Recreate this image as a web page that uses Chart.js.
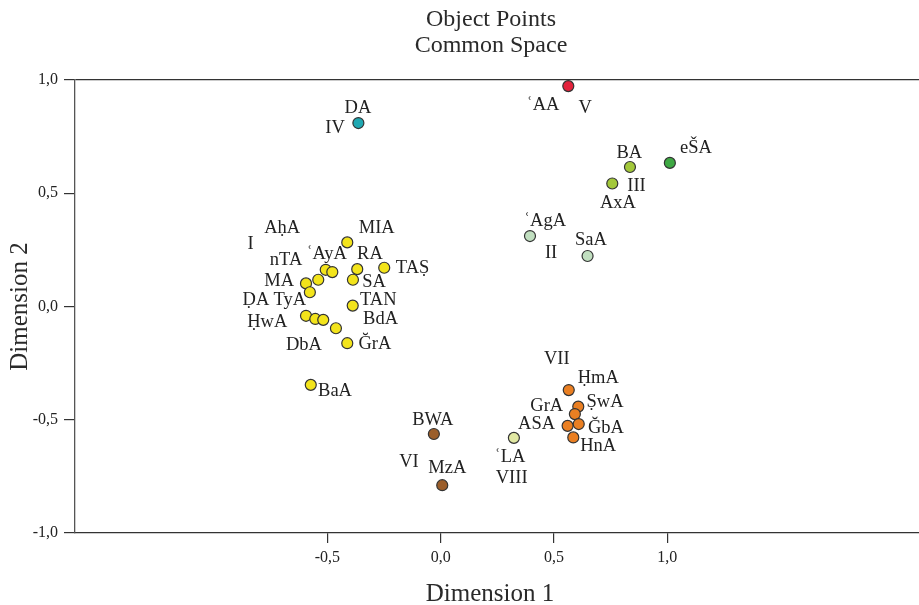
<!DOCTYPE html>
<html>
<head>
<meta charset="utf-8">
<title>Object Points</title>
<script src="https://cdn.jsdelivr.net/npm/chart.js@4/dist/chart.umd.min.js"></script>
<style>
  body { margin: 0; background: #fff; }
</style>
</head>
<body>
<canvas id="plot" width="919" height="605"></canvas>
<script>
//point groups (dimension 1 / dimension 2)
const groupI_x = [-0.412, -0.368, -0.249, -0.387, -0.388, -0.412, -0.462, -0.594, -0.553, -0.518, -0.507, -0.478, -0.540, -0.594, -0.577, -0.573]
const groupI_y = [0.283, 0.165, 0.171, 0.118, 0.004, -0.162, -0.096, -0.041, -0.055, -0.059, 0.162, 0.152, 0.118, 0.102, 0.063, -0.346]
const groupII_x = [0.394, 0.648]
const groupII_y = [0.311, 0.223]
const groupIII_x = [0.835, 0.757]
const groupIII_y = [0.616, 0.543]
const eSA_x = [1.011]
const eSA_y = [0.634]
const groupIV_x = [-0.363]
const groupIV_y = [0.810]
const groupV_x = [0.563]
const groupV_y = [0.973]
const groupVI_x = [-0.030, 0.007]
const groupVI_y = [-0.563, -0.789]
const groupVII_x = [0.565, 0.607, 0.592, 0.560, 0.609, 0.585]
const groupVII_y = [-0.369, -0.442, -0.475, -0.527, -0.519, -0.578]
const groupVIII_x = [0.323]
const groupVIII_y = [-0.580]

//text labels, placed in data units
const labelText = ['ʿAA', 'V', 'DA', 'IV', 'BA', 'III', 'AxA', 'eŠA', 'ʿAgA', 'II', 'SaA',
  'AḥA', 'I', 'MIA', 'nTA', 'ʿAyA', 'RA', 'TAṢ', 'MA', 'SA', 'ḌA', 'TyA', 'TAN', 'ḤwA', 'BdA', 'DbA', 'ĞrA', 'BaA',
  'BWA', 'VI', 'MzA', 'VII', 'ḤmA', 'ṢwA', 'GrA', 'ASA', 'ĞbA', 'HnA', 'ʿLA', 'VIII']
const labelX = [0.451, 0.637, -0.365, -0.466, 0.832, 0.864, 0.782, 1.126, 0.460, 0.487, 0.663,
  -0.699, -0.838, -0.282, -0.682, -0.503, -0.312, -0.124, -0.712, -0.294, -0.815, -0.665, -0.275, -0.765, -0.265, -0.603, -0.290, -0.466,
  -0.035, -0.140, 0.029, 0.512, 0.695, 0.725, 0.468, 0.423, 0.729, 0.695, 0.306, 0.313]
const labelY = [0.894, 0.882, 0.881, 0.792, 0.681, 0.535, 0.460, 0.705, 0.381, 0.240, 0.300,
  0.350, 0.279, 0.350, 0.208, 0.235, 0.235, 0.173, 0.119, 0.111, 0.031, 0.031, 0.035, -0.066, -0.049, -0.164, -0.159, -0.367,
  -0.495, -0.684, -0.708, -0.226, -0.310, -0.416, -0.434, -0.513, -0.531, -0.611, -0.659, -0.752]

//axis ticks
const xTicks = [-0.5, 0, 0.5, 1.0]
const yTicks = [-1.0, -0.5, 0, 0.5, 1.0]

function pts(xs, ys) {
  return xs.map((x, i) => ({ x: x, y: ys[i] }))
}

function group(xs, ys, color) {
  return {
    data: pts(xs, ys),
    backgroundColor: color,
    borderColor: '#333',
    borderWidth: 1.2,
    pointRadius: 5.5
  }
}

function comma(v) {
  return v.toFixed(1).replace('.', ',')
}

const serif = '"Liberation Serif", serif'

//labels and titles drawn on top
const textPlugin = {
  id: 'texts',
  afterDatasetsDraw(chart) {
    const ctx = chart.ctx
    const sx = chart.scales.x
    const sy = chart.scales.y
    ctx.save()
    ctx.fillStyle = '#222'
    ctx.font = '18.5px ' + serif
    ctx.textAlign = 'center'
    ctx.textBaseline = 'alphabetic'
    labelText.forEach((t, i) => {
      ctx.fillText(t, sx.getPixelForValue(labelX[i]), sy.getPixelForValue(labelY[i]) + 6)
    })

    ctx.fillStyle = '#2a2a2a'
    ctx.font = '24px ' + serif
    ctx.fillText('Object Points', 491, 26)
    ctx.fillText('Common Space', 491, 52)
    ctx.font = '25px ' + serif
    ctx.fillText('Dimension 1', 490, 601)

    ctx.translate(27, (chart.chartArea.top + chart.chartArea.bottom) / 2)
    ctx.rotate(-Math.PI / 2)
    ctx.fillText('Dimension 2', 0, 0)
    ctx.restore()
  }
}

new Chart(document.getElementById('plot'), {
  type: 'scatter',
  data: {
    datasets: [
      group(groupI_x, groupI_y, '#f3e41b'),
      group(groupII_x, groupII_y, '#c1dfc0'),
      group(groupIII_x, groupIII_y, '#a3c83a'),
      group(eSA_x, eSA_y, '#3ea843'),
      group(groupIV_x, groupIV_y, '#1fa8b2'),
      group(groupV_x, groupV_y, '#e4223c'),
      group(groupVI_x, groupVI_y, '#9b5e2b'),
      group(groupVII_x, groupVII_y, '#ea7f22'),
      group(groupVIII_x, groupVIII_y, '#e1e8a3')
    ]
  },
  options: {
    responsive: false,
    animation: false,
    layout: { autoPadding: false, padding: { top: 80, left: 0, right: 0, bottom: 0 } },
    plugins: {
      legend: { display: false },
      tooltip: { enabled: false }
    },
    scales: {
      x: {
        type: 'linear',
        min: -1.613,
        max: 2.110,
        afterBuildTicks: (s) => { s.ticks = xTicks.map(v => ({ value: v })) },
        afterFit: (s) => {
          s.height = 72
          s.paddingLeft = 0
          s.paddingRight = 0
        },
        ticks: {
          callback: (v) => comma(v),
          color: '#222',
          padding: 5,
          maxRotation: 0,
          font: { family: serif, size: 16 }
        },
        grid: { drawOnChartArea: false, tickLength: 10, color: '#333', lineWidth: 1.2 },
        border: { color: '#333', width: 1.3 }
      },
      y: {
        type: 'linear',
        min: -1,
        max: 1,
        afterBuildTicks: (s) => { s.ticks = yTicks.map(v => ({ value: v })) },
        afterFit: (s) => { s.width = 75 },
        ticks: {
          callback: (v) => comma(v),
          color: '#222',
          padding: 6,
          font: { family: serif, size: 16 }
        },
        //only the top line (1,0) crosses the plot
        grid: {
          color: (c) => (c.tick && c.tick.value === 1) ? '#333' : 'rgba(0,0,0,0)',
          tickColor: '#333',
          tickLength: 11,
          lineWidth: 1.2
        },
        border: { color: '#555', width: 1.3 }
      }
    }
  },
  plugins: [textPlugin]
})
</script>
</body>
</html>
